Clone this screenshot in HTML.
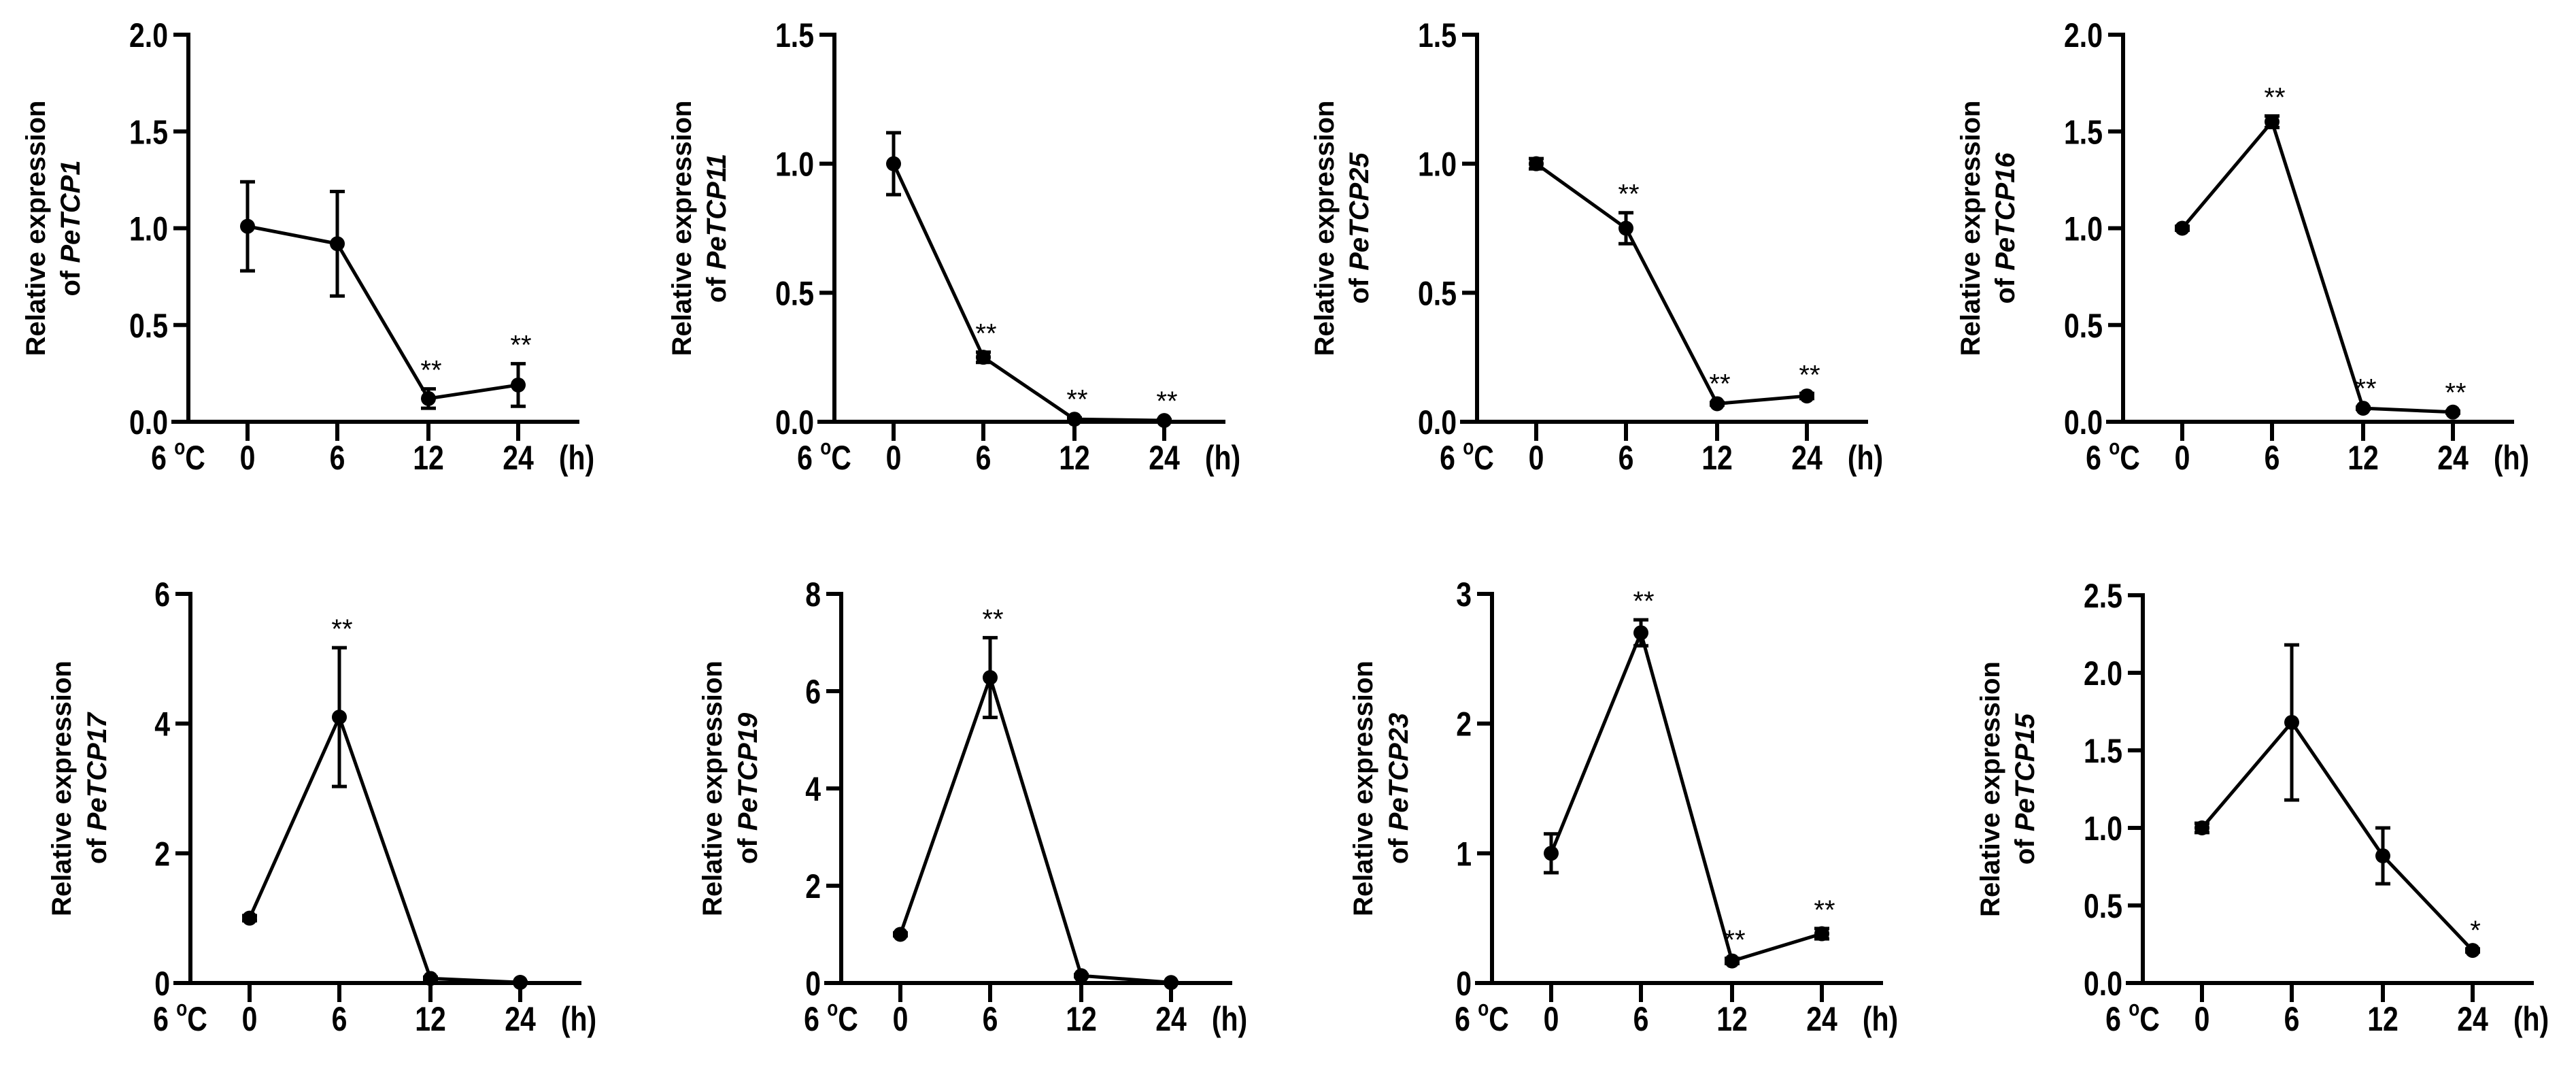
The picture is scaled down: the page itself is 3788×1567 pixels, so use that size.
<!DOCTYPE html>
<html><head><meta charset="utf-8"><style>
html,body{margin:0;padding:0;background:#fff;}
svg{display:block;}
text{font-family:"Liberation Sans",Arial,sans-serif;fill:#000;}
</style></head><body>
<svg id="fig" width="3788" height="1567" viewBox="0 0 3788 1567" xmlns="http://www.w3.org/2000/svg"></svg>
<script>
const timeLabels = ["0","6","12","24"];
const genes = ["PeTCP1","PeTCP11","PeTCP25","PeTCP16","PeTCP17","PeTCP19","PeTCP23","PeTCP15"];
const meansP1 = [1.01,0.92,0.12,0.19];
const errsP1 = [0.23,0.27,0.05,0.11];
const meansP11 = [1.0,0.25,0.01,0.005];
const errsP11 = [0.12,0.02,0.005,0.003];
const meansP25 = [1.0,0.75,0.07,0.1];
const errsP25 = [0.02,0.06,0.005,0.01];
const meansP16 = [1.0,1.55,0.07,0.05];
const errsP16 = [0.01,0.03,0.005,0.005];
const meansP17 = [1.0,4.1,0.07,0.01];
const errsP17 = [0.04,1.07,0.02,0.005];
const meansP19 = [1.0,6.28,0.15,0.01];
const errsP19 = [0.03,0.82,0.02,0.005];
const meansP23 = [1.0,2.7,0.17,0.38];
const errsP23 = [0.15,0.1,0.02,0.04];
const meansP15 = [1.0,1.68,0.82,0.21];
const errsP15 = [0.03,0.5,0.18,0.01];
const yTicksP1 = ["0.0","0.5","1.0","1.5","2.0"];
const yTicksP11 = ["0.0","0.5","1.0","1.5"];
const yTicksP25 = ["0.0","0.5","1.0","1.5"];
const yTicksP16 = ["0.0","0.5","1.0","1.5","2.0"];
const yTicksP17 = ["0","2","4","6"];
const yTicksP19 = ["0","2","4","6","8"];
const yTicksP23 = ["0","1","2","3"];
const yTicksP15 = ["0.0","0.5","1.0","1.5","2.0","2.5"];
const starsP1 = ["","","**","**"];
const starsP11 = ["","**","**","**"];
const starsP25 = ["","**","**","**"];
const starsP16 = ["","**","**","**"];
const starsP17 = ["","**","",""];
const starsP19 = ["","**","",""];
const starsP23 = ["","**","**","**"];
const starsP15 = ["","","","*"];

const NS="http://www.w3.org/2000/svg";
const svg=document.getElementById('fig');
function mk(tag,attrs,parent){const e=document.createElementNS(NS,tag);for(const k in attrs)e.setAttribute(k,attrs[k]);(parent||svg).appendChild(e);return e;}

const panels=[
 {m:meansP1,e:errsP1,t:yTicksP1,s:starsP1,ax:277,y0:620,yt:51,wide:true},
 {m:meansP11,e:errsP11,t:yTicksP11,s:starsP11,ax:1227,y0:620,yt:51,wide:true},
 {m:meansP25,e:errsP25,t:yTicksP25,s:starsP25,ax:2172,y0:620,yt:51,wide:true},
 {m:meansP16,e:errsP16,t:yTicksP16,s:starsP16,ax:3122,y0:620,yt:51,wide:true},
 {m:meansP17,e:errsP17,t:yTicksP17,s:starsP17,ax:280,y0:1445,yt:873,wide:false},
 {m:meansP19,e:errsP19,t:yTicksP19,s:starsP19,ax:1237,y0:1445,yt:873,wide:false},
 {m:meansP23,e:errsP23,t:yTicksP23,s:starsP23,ax:2194,y0:1445,yt:873,wide:false},
 {m:meansP15,e:errsP15,t:yTicksP15,s:starsP15,ax:3151,y0:1445,yt:875,wide:true}
];
const xOff=[87,219,353,485];

panels.forEach((p,i)=>{
 const g=mk('g',{});
 
 
 const ymax=parseFloat(p.t[p.t.length-1]);
 const ys=v=>p.y0-(v/ymax)*(p.y0-p.yt);
 const xs=k=>p.ax+xOff[k];
 // axes
 const ya=mk('line',{x1:p.ax,y1:p.yt-3,x2:p.ax,y2:p.y0+3,stroke:'#000','stroke-width':6},g);
 
 
 const xa=mk('line',{x1:p.ax-25,y1:p.y0,x2:p.ax+575,y2:p.y0,stroke:'#000','stroke-width':6},g);
 
 
 p.t.forEach(tl=>{
  const y=ys(parseFloat(tl));
  mk('line',{x1:p.ax-22,y1:y,x2:p.ax,y2:y,stroke:'#000','stroke-width':6},g);
  const tx=mk('text',{x:0,y:0,'font-size':50,'font-weight':'bold','text-anchor':'end',transform:`translate(${p.ax-30},${y+18}) scale(0.82,1)`},g);
  tx.textContent=tl;
  
  
 });
 timeLabels.forEach((tl,k)=>{
  const x=xs(k);
  mk('line',{x1:x,y1:p.y0,x2:x,y2:p.y0+28,stroke:'#000','stroke-width':6},g);
  const tx=mk('text',{x:0,y:0,'font-size':50,'font-weight':'bold','text-anchor':'middle',transform:`translate(${x},${p.y0+70}) scale(0.82,1)`},g);
  tx.textContent=tl;
  
  
 });
 const tc=mk('text',{x:0,y:0,'font-size':50,'font-weight':'bold','text-anchor':'middle',transform:`translate(${p.ax-15},${p.y0+70}) scale(0.82,1)`},g);
 tc.innerHTML='6 <tspan font-size="32" dy="-22">o</tspan><tspan dy="22">C</tspan>';
 
 
 const th=mk('text',{x:0,y:0,'font-size':50,'font-weight':'bold','text-anchor':'middle',transform:`translate(${p.ax+571},${p.y0+70}) scale(0.82,1)`},g);
 th.textContent='(h)';
 
 
 // y-title
 const lx1=p.ax-(p.wide?225:190), lx2=p.ax-(p.wide?174:138);
 const yc=(p.y0+p.yt)/2;
 const t1=mk('text',{x:0,y:0,'font-size':40,'font-weight':'bold','text-anchor':'middle',transform:`translate(${lx1+14},${yc}) rotate(-90)`},g);
 t1.textContent='Relative expression';
 
 
 const t2=mk('text',{x:0,y:0,'font-size':40,'font-weight':'bold','text-anchor':'middle',transform:`translate(${lx2+14},${yc}) rotate(-90)`},g);
 t2.innerHTML='of <tspan font-style="italic">'+genes[i]+'</tspan>';
 
 
 // line
 const pts=p.m.map((v,k)=>xs(k)+','+ys(v)).join(' ');
 const pl=mk('polyline',{points:pts,fill:'none',stroke:'#000','stroke-width':5},g);
 
 
 p.m.forEach((v,k)=>{
  const x=xs(k),e=p.e[k];
  const eb=mk('path',{d:`M${x},${ys(v+e)}V${ys(Math.max(0,v-e))}M${x-11},${ys(v+e)}H${x+11}M${x-11},${ys(Math.max(0,v-e))}H${x+11}`,stroke:'#000','stroke-width':5,fill:'none'},g);
  
  
  const c=mk('circle',{cx:x,cy:ys(v),r:11,fill:'#000'},g);
  
  
  if(p.s[k]){
   const st=mk('text',{x:x+4,y:ys(v+e)-14,'font-size':40,'text-anchor':'middle'},g);
   st.textContent=p.s[k];
   
   
  }
 });
});
</script>
</body></html>
